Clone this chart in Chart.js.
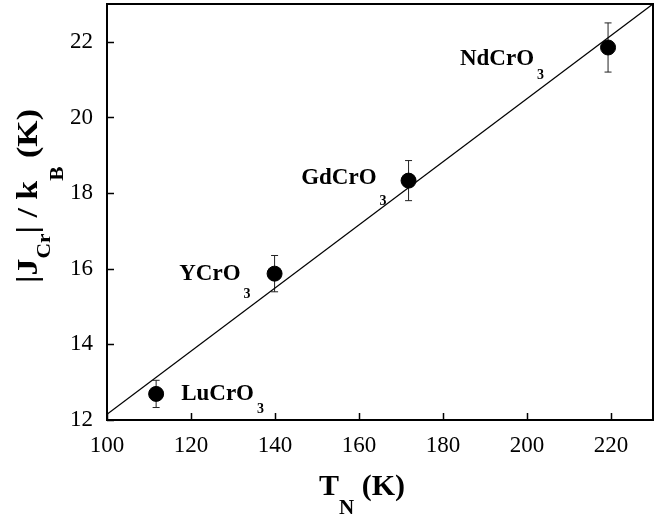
<!DOCTYPE html>
<html>
<head>
<meta charset="utf-8">
<script src="https://cdn.jsdelivr.net/npm/chart.js@4/dist/chart.umd.min.js"></script>
<style>
  html, body { margin: 0; padding: 0; background: #fff; }
  #wrap { width: 667px; height: 516px; }
</style>
</head>
<body>
<div id="wrap"><canvas id="chart" width="667" height="516"></canvas></div>
<script>
// data
const tN = [111.7, 139.9, 171.8, 219.3];
const jCr = [12.69, 15.87, 18.33, 21.85];
const jErr = [0.36, 0.48, 0.53, 0.65];
const compounds = ["LuCrO", "YCrO", "GdCrO", "NdCrO"];
const subscripts = ["3", "3", "3", "3"];

// straight line through the points
const fitT = [100, 230];
const fitJ = [12.15, 23.0];

const xTickValues = [100, 120, 140, 160, 180, 200, 220];
const yTickValues = [12, 14, 16, 18, 20, 22];

// where each compound label sits relative to its marker (px)
const labelPlace = [
  { dx: 25, dy: 6, align: "left", subDy: 13 },
  { dx: -24, dy: 6, align: "right", subDy: 18 },
  { dx: -22, dy: 3, align: "right", subDy: 21 },
  { dx: -64, dy: 18, align: "right", subDy: 14 },
];

const SERIF = "'Liberation Serif', 'Times New Roman', serif";
Chart.defaults.font.family = SERIF;
Chart.defaults.color = "#000";

function drawRich(ctx, segs, x, y, align) {
  let total = 0;
  segs.forEach(s => { ctx.font = s.font; s.w = ctx.measureText(s.text).width + (s.gap || 0); total += s.w; });
  let cx = align === "right" ? x - total : align === "center" ? x - total / 2 : x;
  ctx.textAlign = "left";
  ctx.textBaseline = "alphabetic";
  segs.forEach(s => {
    ctx.font = s.font;
    ctx.fillText(s.text, cx + (s.gap || 0), y + (s.dy || 0));
    cx += s.w;
  });
}

const decor = {
  id: "decor",
  beforeDatasetsDraw(chart) {
    const { ctx, scales: { x, y } } = chart;
    ctx.save();
    ctx.strokeStyle = "#222";
    ctx.lineWidth = 1;
    tN.forEach((t, i) => {
      const px = x.getPixelForValue(t);
      const top = y.getPixelForValue(jCr[i] + jErr[i]);
      const bot = y.getPixelForValue(jCr[i] - jErr[i]);
      ctx.beginPath();
      ctx.moveTo(px, top); ctx.lineTo(px, bot);
      ctx.moveTo(px - 3.5, top); ctx.lineTo(px + 3.5, top);
      ctx.moveTo(px - 3.5, bot); ctx.lineTo(px + 3.5, bot);
      ctx.stroke();
    });
    ctx.restore();
  },
  afterDatasetsDraw(chart) {
    const { ctx, chartArea: a, scales: { x, y } } = chart;
    ctx.save();
    ctx.fillStyle = "#000";
    ctx.strokeStyle = "#000";

    // frame
    ctx.lineWidth = 2;
    ctx.strokeRect(a.left, a.top, a.right - a.left, a.bottom - a.top);

    // inward tick marks
    ctx.lineWidth = 1.5;
    ctx.beginPath();
    xTickValues.forEach(v => {
      const px = Math.round(x.getPixelForValue(v)) + 0.5;
      ctx.moveTo(px, a.bottom); ctx.lineTo(px, a.bottom - 7);
    });
    yTickValues.forEach(v => {
      const py = Math.round(y.getPixelForValue(v)) + 0.5;
      ctx.moveTo(a.left, py); ctx.lineTo(a.left + 7, py);
    });
    ctx.stroke();

    // compound labels
    compounds.forEach((c, i) => {
      const p = labelPlace[i];
      const px = x.getPixelForValue(tN[i]) + p.dx;
      const py = y.getPixelForValue(jCr[i]) + p.dy;
      drawRich(ctx, [
        { text: c, font: "bold 23px " + SERIF },
        { text: subscripts[i], font: "bold 14px " + SERIF, dy: p.subDy, gap: 3 },
      ], px, py, p.align);
    });

    // x title
    const xc = (a.left + a.right) / 2 - 18;
    drawRich(ctx, [
      { text: "T", font: "bold 30px " + SERIF },
      { text: "N", font: "bold 21px " + SERIF, dy: 19 },
      { text: " (K)", font: "bold 30px " + SERIF },
    ], xc, 495, "center");

    // y title
    ctx.translate(37, 196);
    ctx.rotate(-Math.PI / 2);
    ctx.scale(1.13, 1);
    drawRich(ctx, [
      { text: "|J", font: "bold 30px " + SERIF },
      { text: "Cr", font: "bold 19px " + SERIF, dy: 13 },
      { text: "| / k", font: "bold 30px " + SERIF },
      { text: "B", font: "bold 19px " + SERIF, dy: 26 },
      { text: " (K)", font: "bold 30px " + SERIF },
    ], 0, 0, "center");
    ctx.restore();
  }
};

new Chart(document.getElementById("chart").getContext("2d"), {
  type: "scatter",
  data: {
    datasets: [
      {
        label: "fit",
        type: "line",
        data: fitT.map((t, i) => ({ x: t, y: fitJ[i] })),
        borderColor: "#000",
        borderWidth: 1.3,
        pointRadius: 0,
        fill: false,
      },
      {
        label: "J",
        data: tN.map((t, i) => ({ x: t, y: jCr[i] })),
        backgroundColor: "#000",
        borderColor: "#000",
        pointRadius: 7.5,
        pointHoverRadius: 7.5,
      },
    ],
  },
  options: {
    responsive: false,
    animation: false,
    events: [],
    layout: { autoPadding: false, padding: { top: 4, right: 14, left: 0, bottom: 0 } },
    plugins: { legend: { display: false }, tooltip: { enabled: false } },
    scales: {
      x: {
        type: "linear",
        min: 100,
        max: 230,
        afterBuildTicks: s => { s.ticks = xTickValues.map(v => ({ value: v })); },
        afterFit: s => { s.height = 96; s.paddingLeft = 0; s.paddingRight = 0; },
        grid: { display: false, drawTicks: false },
        border: { display: false },
        ticks: { font: { size: 23 }, color: "#000", padding: 12, maxRotation: 0 },
      },
      y: {
        type: "linear",
        min: 12,
        max: 23,
        afterBuildTicks: s => { s.ticks = yTickValues.map(v => ({ value: v })); },
        afterFit: s => { s.width = 107; s.paddingTop = 0; s.paddingBottom = 0; },
        grid: { display: false, drawTicks: false },
        border: { display: false },
        ticks: { font: { size: 23 }, color: "#000", padding: 14 },
      },
    },
  },
  plugins: [decor],
});
</script>
</body>
</html>
